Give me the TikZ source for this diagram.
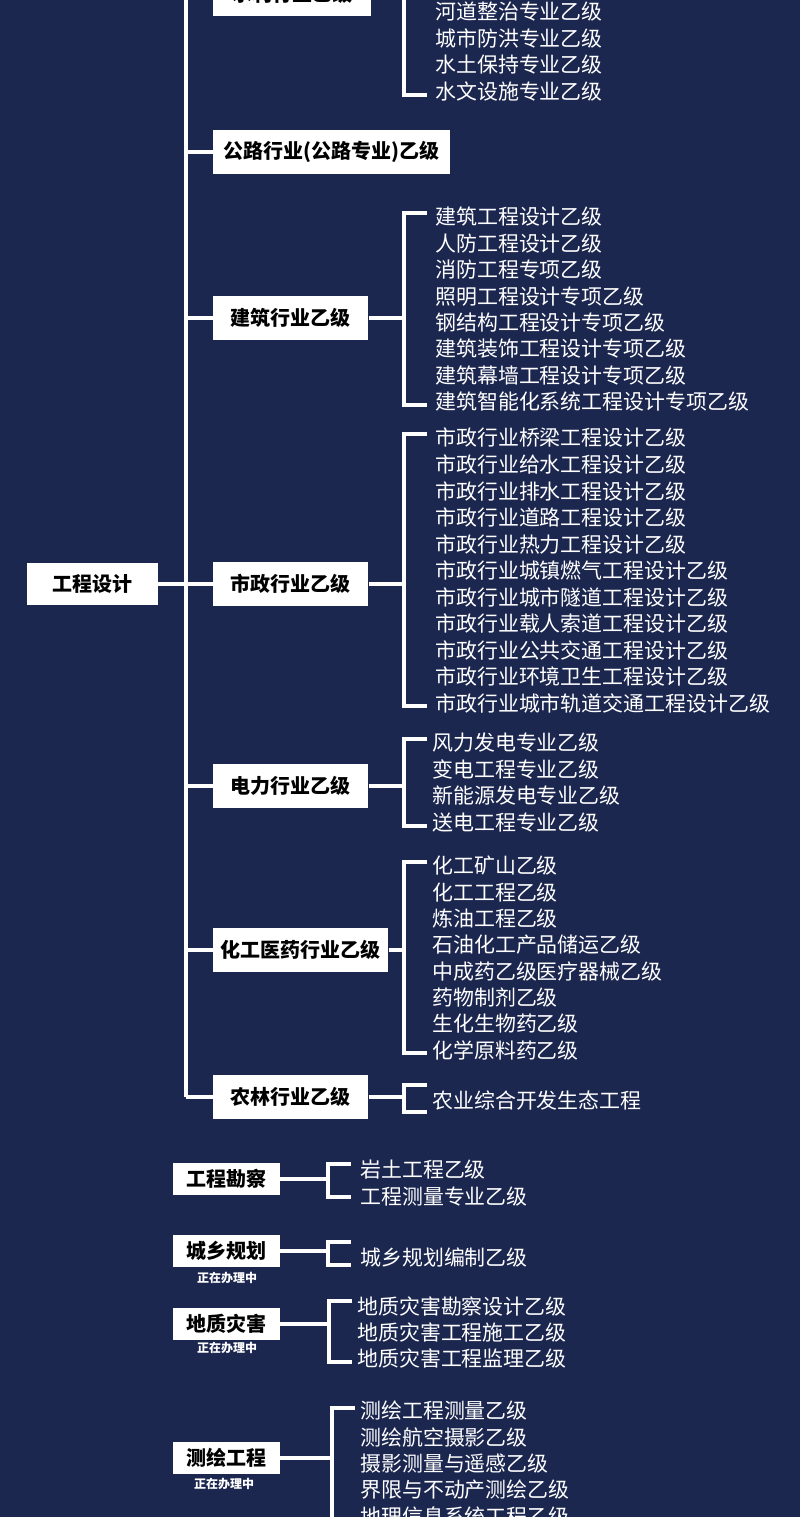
\documentclass[tikz,border=0pt]{standalone}
\usepackage{fontspec}
\newfontfamily\cjk{Noto Sans CJK SC}
\begin{document}
\begin{tikzpicture}[x=0.75pt,y=-0.75pt,
  ln/.style={white,line width=3pt},
  box/.style={fill=white,text=black,font=\cjk\bfseries\fontsize{15}{16}\selectfont,inner sep=0pt,anchor=west},
  item/.style={text=white,font=\cjk\fontsize{15.7}{17}\selectfont,anchor=west,inner sep=0pt},
  sub/.style={text=white,font=\cjk\bfseries\fontsize{9}{10}\selectfont,inner sep=0pt}]
\fill[fill={rgb,255:red,28;green,39;blue,80}] (0,0) rectangle (800,1517);
\useasboundingbox (0,0) rectangle (800,1517);
\begin{scope}
\clip (0,0) rectangle (800,1517);
% root
\node[box,minimum width=98pt,minimum height=32pt] (root) at (27,584) {工程设计};
\draw[ln] (186,-10) -- (186,1097);
\draw[ln] (root.east) -- (186,584);
% children
\foreach \n/\y/\w/\t in {sl/-6/158/水利行业乙级, gl/152/237/公路行业(公路专业)乙级, jz/318/155/建筑行业乙级, sz/584/155/市政行业乙级, dl/786/155/电力行业乙级, hg/950/175/化工医药行业乙级, nl/1097/155/农林行业乙级}{
  \node[box,minimum width=\w*0.75pt,minimum height=33pt] (\n) at (213,\y) {\t};
  \draw[ln] (186,\y) -- (\n.west);
}
\foreach \n/\y/\a/\b in {sl/-6/-40/95, jz/318/213/405, sz/584/434/706, dl/786/739/826, hg/950/862/1053, nl/1097/1085/1112}{
  \draw[ln] (\n.east |- 0,\y) -- (404,\y);
  \draw[ln] (427,\a) -- (404,\a) -- (404,\b) -- (427,\b);
}
\foreach \t [count=\i] in {河道整治专业乙级,城市防洪专业乙级,水土保持专业乙级,水文设施专业乙级}
  \node[item] (sli\i) at (435,12+26.4*\i-26.4) {\t};
\foreach \t [count=\i] in {建筑工程设计乙级,人防工程设计乙级,消防工程专项乙级,照明工程设计专项乙级,钢结构工程设计专项乙级,建筑装饰工程设计专项乙级,建筑幕墙工程设计专项乙级,建筑智能化系统工程设计专项乙级}
  \node[item] (jzi\i) at (435,217+26.4*\i-26.4) {\t};
\foreach \t [count=\i] in {市政行业桥梁工程设计乙级,市政行业给水工程设计乙级,市政行业排水工程设计乙级,市政行业道路工程设计乙级,市政行业热力工程设计乙级,市政行业城镇燃气工程设计乙级,市政行业城市隧道工程设计乙级,市政行业载人索道工程设计乙级,市政行业公共交通工程设计乙级,市政行业环境卫生工程设计乙级,市政行业城市轨道交通工程设计乙级}
  \node[item] (szi\i) at (435,438+26.5*\i-26.5) {\t};
\foreach \t [count=\i] in {风力发电专业乙级,变电工程专业乙级,新能源发电专业乙级,送电工程专业乙级}
  \node[item] (dli\i) at (432,743+26.5*\i-26.5) {\t};
\foreach \t [count=\i] in {化工矿山乙级,化工工程乙级,炼油工程乙级,石油化工产品储运乙级,中成药乙级医疗器械乙级,药物制剂乙级,生化生物药乙级,化学原料药乙级}
  \node[item] (hgi\i) at (432,866+26.3*\i-26.3) {\t};
\node[item] (nli1) at (432,1101) {农业综合开发生态工程};
% lower sections
\foreach \n/\y/\t in {kc/1179/工程勘察, gh/1251/城乡规划, dz/1324/地质灾害, ch/1458/测绘工程}{
  \node[box,minimum width=80pt,minimum height=24pt] (\n) at (173,\y) {\t};
}
\foreach \n/\y/\x/\a/\b in {kc/1179/328/1164/1197, gh/1251/328/1242/1265, dz/1324/329/1301/1362, ch/1458/332/1408/1530}{
  \draw[ln] (\n.east) -- (\x,\y);
  \draw[ln] (\x+23,\a) -- (\x,\a) -- (\x,\b) -- (\x+23,\b);
}
\node[sub] (ghs) at (227,1278) {正在办理中};
\node[sub] (dzs) at (227,1348) {正在办理中};
\node[sub] (chs) at (224,1484) {正在办理中};
\foreach \t [count=\i] in {岩土工程乙级,工程测量专业乙级}
  \node[item] (kci\i) at (360,1170+27*\i-27) {\t};
\node[item] (ghi1) at (360,1257) {城乡规划编制乙级};
\foreach \t [count=\i] in {地质灾害勘察设计乙级,地质灾害工程施工乙级,地质灾害工程监理乙级}
  \node[item] (dzi\i) at (357,1306+26*\i-26) {\t};
\foreach \t [count=\i] in {测绘工程测量乙级,测绘航空摄影乙级,摄影测量与遥感乙级,界限与不动产测绘乙级,地理信息系统工程乙级}
  \node[item] (chi\i) at (360,1411+26.3*\i-26.3) {\t};
\end{scope}
\end{tikzpicture}
\end{document}
